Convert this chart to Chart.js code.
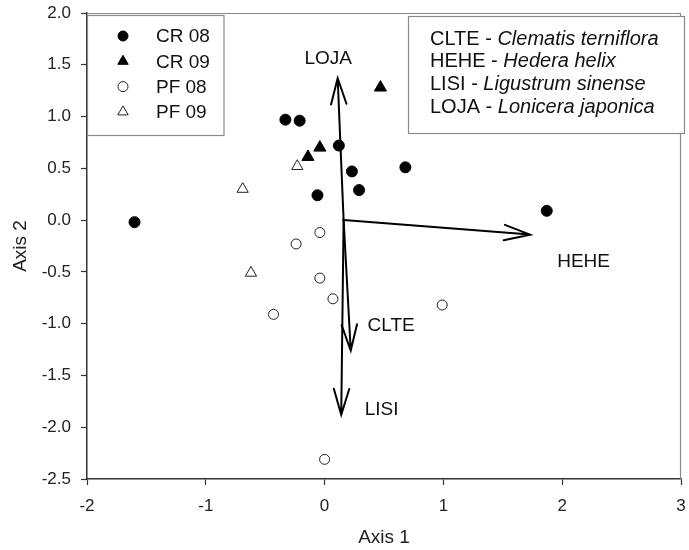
<!DOCTYPE html>
<html lang="en">
<head>
<meta charset="UTF-8">
<title>Ordination biplot</title>
<script src="https://cdn.jsdelivr.net/npm/chart.js"></script>
<style>
  body { margin: 0; background: #fff; }
</style>
</head>
<body>
<canvas id="biplot" width="689" height="550"></canvas>
<script>
  // site scores, Axis 1 / Axis 2
  const cr08X = [-1.60, -0.33, -0.21, 0.12, -0.06, 0.23, 0.29, 0.68, 1.87];
  const cr08Y = [-0.02, 0.97, 0.96, 0.72, 0.24, 0.47, 0.29, 0.51, 0.09];
  const cr09X = [-0.14, -0.04, 0.47];
  const cr09Y = [0.61, 0.70, 1.28];
  const pf08X = [-0.04, -0.24, -0.04, 0.07, -0.43, 0.00, 0.99];
  const pf08Y = [-0.12, -0.23, -0.56, -0.76, -0.91, -2.31, -0.82];
  const pf09X = [-0.23, -0.69, -0.62];
  const pf09Y = [0.52, 0.30, -0.51];

  // species vectors (tips), all starting from the same origin
  const vectorNames = ['LOJA', 'HEHE', 'CLTE', 'LISI'];
  const vectorX = [0.11, 1.73, 0.22, 0.14];
  const vectorY = [1.37, -0.14, -1.26, -1.88];
  const vectorOrigin = [0.16, 0.0];

  const speciesCodes = ['CLTE', 'HEHE', 'LISI', 'LOJA'];
  const speciesNames = ['Clematis terniflora', 'Hedera helix', 'Ligustrum sinense', 'Lonicera japonica'];

  const xTicks = [-2, -1, 0, 1, 2, 3];
  const yTicks = [-2.5, -2.0, -1.5, -1.0, -0.5, 0.0, 0.5, 1.0, 1.5, 2.0];

  // where the vector names sit, in axis units
  const vecLabelAt = [[0.03, 1.56], [2.18, -0.40], [0.56, -1.02], [0.48, -1.83]];

  const FONT = 'Arial, "Liberation Sans", sans-serif';

  function pts(xs, ys) {
    return xs.map((x, i) => ({ x: x, y: ys[i] }));
  }

  const datasets = [
    { label: 'CR 08', data: pts(cr08X, cr08Y), pointStyle: 'circle', pointRadius: 5.5,
      backgroundColor: '#000', borderColor: '#000', borderWidth: 1 },
    { label: 'CR 09', data: pts(cr09X, cr09Y), pointStyle: 'triangle', pointRadius: 7,
      backgroundColor: '#000', borderColor: '#000', borderWidth: 1 },
    { label: 'PF 08', data: pts(pf08X, pf08Y), pointStyle: 'circle', pointRadius: 5,
      backgroundColor: '#fff', borderColor: '#222', borderWidth: 1 },
    { label: 'PF 09', data: pts(pf09X, pf09Y), pointStyle: 'triangle', pointRadius: 6.5,
      backgroundColor: '#fff', borderColor: '#222', borderWidth: 1 }
  ];

  function drawMarker(ctx, ds, x, y, r) {
    ctx.save();
    ctx.fillStyle = ds.backgroundColor;
    ctx.strokeStyle = ds.borderColor;
    ctx.lineWidth = ds.borderWidth;
    ctx.beginPath();
    if (ds.pointStyle === 'circle') {
      ctx.arc(x, y, r, 0, Math.PI * 2);
    } else {
      ctx.moveTo(x, y - r);
      ctx.lineTo(x + r * 0.866, y + r * 0.5);
      ctx.lineTo(x - r * 0.866, y + r * 0.5);
      ctx.closePath();
    }
    ctx.fill();
    ctx.stroke();
    ctx.restore();
  }

  const framePlugin = {
    id: 'frame',
    beforeDatasetsDraw(chart) {
      const { ctx, chartArea: a } = chart;
      ctx.save();
      ctx.strokeStyle = '#8a8a8a';
      ctx.lineWidth = 1.2;
      ctx.beginPath();
      ctx.moveTo(a.left, a.top + 0.5);
      ctx.lineTo(a.right - 0.5, a.top + 0.5);
      ctx.lineTo(a.right - 0.5, a.bottom);
      ctx.stroke();
      ctx.restore();
    }
  };

  const vectorPlugin = {
    id: 'vectors',
    afterDatasetsDraw(chart) {
      const { ctx, scales } = chart;
      const ox = scales.x.getPixelForValue(vectorOrigin[0]);
      const oy = scales.y.getPixelForValue(vectorOrigin[1]);
      ctx.save();
      ctx.strokeStyle = '#000';
      ctx.lineWidth = 2;
      ctx.lineCap = 'round';
      vectorNames.forEach((name, i) => {
        const tx = scales.x.getPixelForValue(vectorX[i]);
        const ty = scales.y.getPixelForValue(vectorY[i]);
        const ang = Math.atan2(ty - oy, tx - ox);
        const len = 27, spread = 0.29;
        ctx.beginPath();
        ctx.moveTo(ox, oy);
        ctx.lineTo(tx, ty);
        ctx.moveTo(tx - len * Math.cos(ang - spread), ty - len * Math.sin(ang - spread));
        ctx.lineTo(tx, ty);
        ctx.lineTo(tx - len * Math.cos(ang + spread), ty - len * Math.sin(ang + spread));
        ctx.stroke();
      });
      ctx.fillStyle = '#111';
      ctx.font = '19px ' + FONT;
      ctx.textAlign = 'center';
      ctx.textBaseline = 'middle';
      vectorNames.forEach((name, i) => {
        ctx.fillText(name, scales.x.getPixelForValue(vecLabelAt[i][0]),
          scales.y.getPixelForValue(vecLabelAt[i][1]));
      });
      ctx.restore();
    }
  };

  const legendPlugin = {
    id: 'boxes',
    afterDraw(chart) {
      const { ctx } = chart;
      ctx.save();
      // symbol key
      ctx.fillStyle = '#fff';
      ctx.strokeStyle = '#8a8a8a';
      ctx.lineWidth = 1.2;
      ctx.fillRect(88, 15, 136, 120);
      ctx.strokeRect(87.5, 15.5, 136.5, 120);
      ctx.font = '19px ' + FONT;
      ctx.textBaseline = 'middle';
      ctx.textAlign = 'left';
      datasets.forEach((ds, i) => {
        const y = 36 + i * 25.3;
        drawMarker(ctx, ds, 123, y, ds.pointStyle === 'circle' ? 5 : 6);
        ctx.fillStyle = '#111';
        ctx.fillText(ds.label, 156, y + 1);
      });
      // species key
      ctx.fillStyle = '#fff';
      ctx.fillRect(409, 16, 275, 117);
      ctx.strokeStyle = '#8a8a8a';
      ctx.strokeRect(408.5, 16.5, 276, 117);
      speciesCodes.forEach((code, i) => {
        const y = 39 + i * 22.7;
        const head = code + ' - ';
        ctx.font = '20px ' + FONT;
        ctx.fillStyle = '#111';
        ctx.fillText(head, 430, y);
        const w = ctx.measureText(head).width;
        ctx.font = 'italic 20px ' + FONT;
        ctx.fillText(speciesNames[i], 430 + w, y);
      });
      ctx.restore();
    }
  };

  const axisCommon = {
    type: 'linear',
    grid: { drawOnChartArea: false, drawTicks: true, tickLength: 6, color: '#333', tickWidth: 1.2 },
    border: { color: '#333', width: 1.5 },
    ticks: { color: '#222', font: { family: FONT, size: 17 } }
  };

  new Chart(document.getElementById('biplot'), {
    type: 'scatter',
    data: { datasets: datasets },
    options: {
      responsive: false,
      animation: false,
      layout: { padding: { top: 13, right: 4, left: 0, bottom: 0 } },
      plugins: { legend: { display: false }, tooltip: { enabled: false } },
      scales: {
        x: Object.assign({}, axisCommon, {
          min: -2, max: 3,
          ticks: Object.assign({}, axisCommon.ticks, { padding: 11 }),
          afterBuildTicks: s => { s.ticks = xTicks.map(v => ({ value: v })); },
          afterFit: s => { s.height = 71; s.paddingLeft = 0; s.paddingRight = 0; },
          title: { display: true, text: 'Axis 1', color: '#222',
            font: { family: FONT, size: 19 }, padding: { top: 0, bottom: 1 } }
        }),
        y: Object.assign({}, axisCommon, {
          min: -2.5, max: 2,
          ticks: Object.assign({}, axisCommon.ticks, { padding: 10,
            callback: v => v.toFixed(1) }),
          afterBuildTicks: s => { s.ticks = yTicks.map(v => ({ value: v })); },
          afterFit: s => { s.width = 87; s.paddingTop = 0; s.paddingBottom = 0; },
          title: { display: true, text: 'Axis 2', color: '#222',
            font: { family: FONT, size: 19 }, padding: { top: 9, bottom: 0 } }
        })
      }
    },
    plugins: [framePlugin, vectorPlugin, legendPlugin]
  });
</script>
</body>
</html>
